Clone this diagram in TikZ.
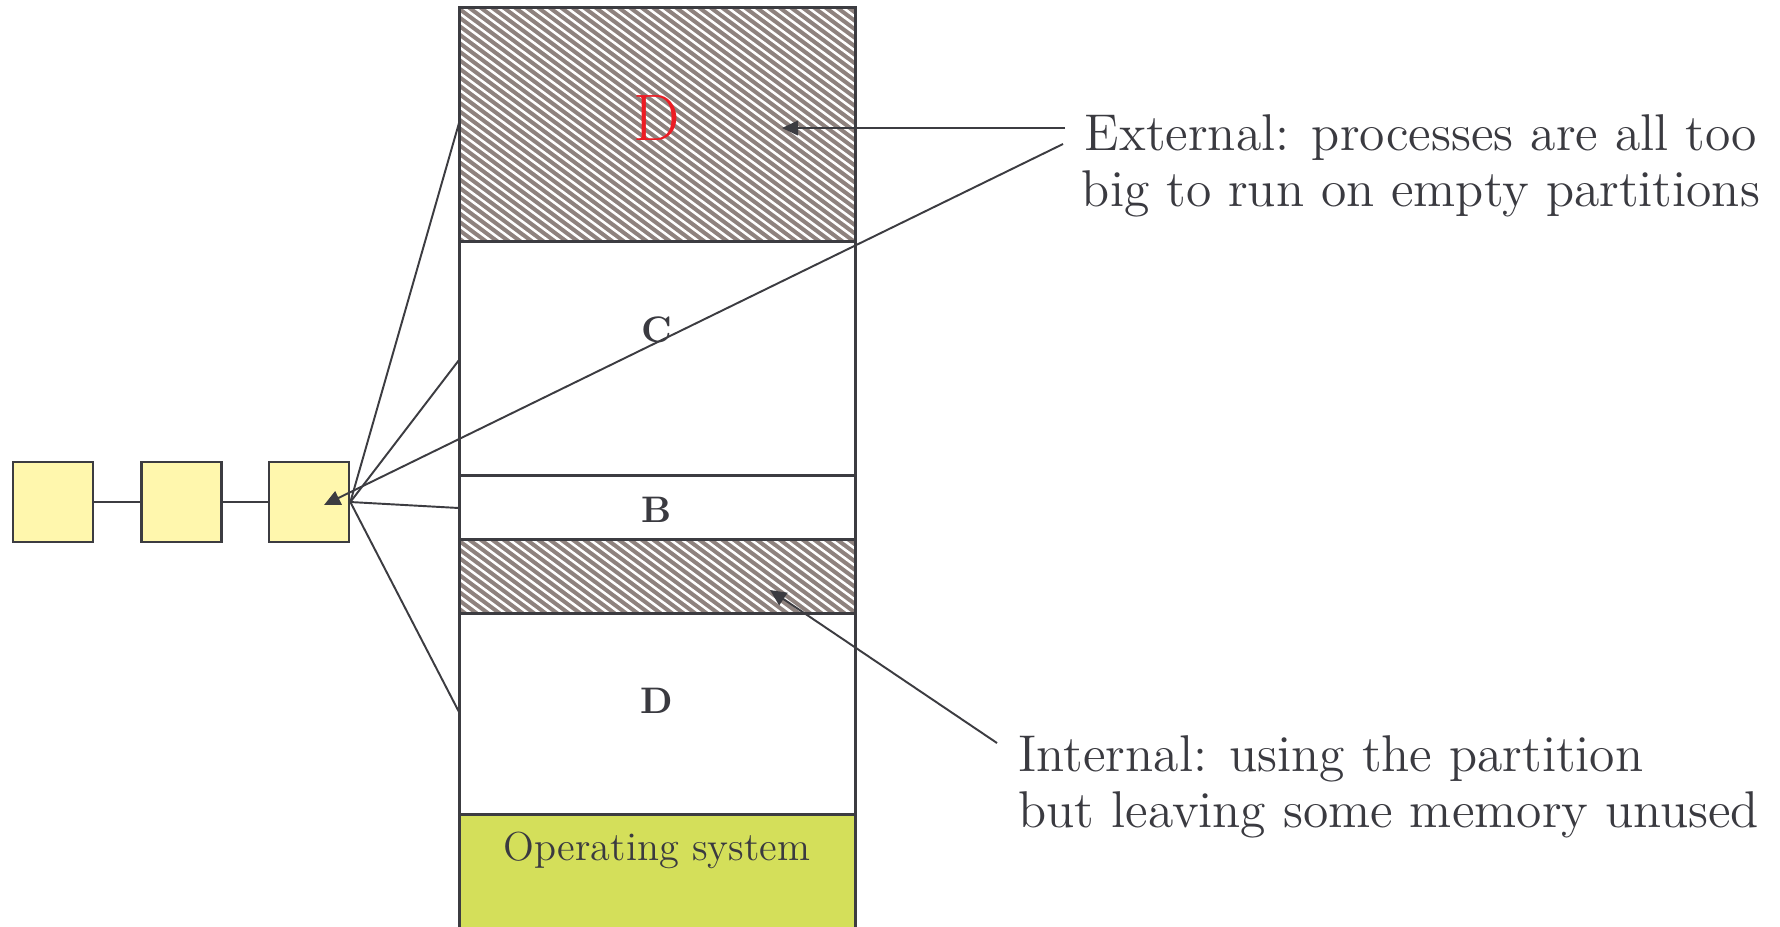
\documentclass[tikz,border=0pt]{standalone}
\usetikzlibrary{arrows.meta}
\definecolor{ink}{HTML}{3C3C41}
\definecolor{txt}{HTML}{3A3A40}
\definecolor{procfill}{HTML}{FFF7AD}
\definecolor{osfill}{HTML}{D4DF5A}
\definecolor{hatchgray}{HTML}{8E827E}
\definecolor{labelred}{HTML}{EC1C24}
\tikzset{
  proc/.style={draw=ink, fill=procfill, line width=0.75pt, minimum size=8mm, inner sep=0pt},
  wall/.style={draw=ink, line width=0.85pt},
  link/.style={draw=ink, line width=0.55pt},
  arr/.style={link, -{Triangle[length=4.6pt,width=4.2pt]}},
  memlabel/.style={font=\fontsize{10.5}{12}\selectfont\bfseries, text=txt, inner sep=0pt, anchor=base},
  note/.style={font=\fontsize{14.7}{16}\selectfont, text=txt, inner sep=0pt},
  hatchline/.style={white, line width=0.72pt},
}
% a hatched (unused) band of the memory column between two heights
\newcommand{\hatchband}[2]{%
  \begin{scope}
    \clip (459,#1) rectangle (855,#2);
    \fill[hatchgray] (459,#1) rectangle (855,#2);
    \foreach \k in {0,11.5,...,800} \draw[hatchline] ({60+\k},#1) -- ++(400,296);
  \end{scope}}
\begin{document}
\begin{tikzpicture}[x=0.01cm,y=-0.01cm]
  \clip (0,0) rectangle (1780,926);
  \fill[white] (0,0) rectangle (1780,926);

  % memory column
  \fill[osfill] (459,814) rectangle (855,940);
  \hatchband{7}{241}
  \hatchband{539}{613}
  \draw[wall] (459,940) -- (459,7) -- (855,7) -- (855,940);
  \foreach \yy in {241,475,539,613,814} \draw[wall] (459,\yy) -- (855,\yy);

  % partition labels
  \node[font=\fontsize{18.7}{20}\selectfont, text=labelred, inner sep=0pt, anchor=base] (redD) at (657,140) {D};
  \node[memlabel] (lc) at (657,342) {C};
  \node[memlabel] (lb) at (657,522) {B};
  \node[memlabel] (ld) at (657,713) {D};
  \node[font=\fontsize{11.5}{13}\selectfont, text=txt, inner sep=0pt, anchor=base] (os) at (657,860) {Operating system};

  % process queue
  \node[proc] (q1) at (53,502) {};
  \node[proc] (q2) at (181.5,502) {};
  \node[proc] (q3) at (309,502) {};
  \draw[link] (q1) -- (q2);
  \draw[link] (q2) -- (q3);

  % fan from the head of the queue to the partitions
  \coordinate (f1) at (459,123);
  \coordinate (f2) at (459,360);
  \coordinate (f3) at (459,508);
  \coordinate (f4) at (459,712);
  \foreach \f in {f1,f2,f3,f4} \draw[link] (q3.east) -- (\f);

  % annotations
  \node[note, align=center, anchor=north] (ext) at (1421,114.1)
    {External: processes are all too\\big to run on empty partitions};
  \node[note, align=left, anchor=north west] (int) at (1018,735.1)
    {Internal: using the partition\\but leaving some memory unused};

  \coordinate (xa) at (1065,128);
  \coordinate (xb) at (782,128);
  \coordinate (xc) at (1063,144);
  \coordinate (xd) at (324,505);
  \coordinate (ia) at (997,743);
  \coordinate (ib) at (770,590);
  \draw[arr] (xa) -- (xb);
  \draw[arr] (xc) -- (xd);
  \draw[arr] (ia) -- (ib);
\end{tikzpicture}
\end{document}
